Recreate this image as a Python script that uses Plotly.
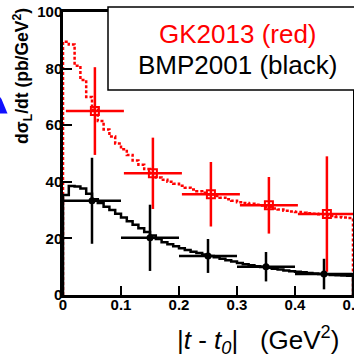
import numpy as np
import plotly.graph_objects as go

# ---- data ----
bin_edges = [round(0.01 * i, 2) for i in range(51)]
gk2013_curve = [89.5, 88.5, 81.0, 76.0, 70.0, 65.5, 61.5, 58.5, 56.0, 53.5,
                51.5, 49.5, 47.5, 46.0, 44.5, 43.0, 41.5, 40.7, 40.0, 39.3,
                38.6, 37.9, 37.3, 36.7, 36.1, 35.5, 35.0, 34.4, 33.8, 33.3,
                32.8, 32.5, 32.2, 31.9, 31.6, 31.1, 30.6, 30.2, 29.8, 29.5,
                29.3, 29.1, 28.9, 28.7, 28.5, 28.2, 27.9, 27.6, 27.4, 27.2]
bmp2001_curve = [35.3, 38.5, 38.3, 37.6, 35.8, 33.8, 32.5, 31.2, 30.0, 28.7,
                 27.4, 26.1, 24.8, 23.6, 22.3, 21.0, 19.8, 18.6, 17.9, 17.2,
                 16.5, 15.9, 15.3, 14.8, 14.3, 13.8, 13.3, 12.8, 12.3, 11.8,
                 11.3, 10.9, 10.5, 10.2, 9.9, 9.6, 9.3, 9.0, 8.7, 8.4,
                 8.2, 8.0, 7.8, 7.6, 7.4, 7.3, 7.1, 7.0, 6.9, 6.8]

red_x = [0.055, 0.155, 0.255, 0.355, 0.455]
red_y = [65.0, 43.0, 35.6, 31.7, 28.6]
red_yerr = [15.5, 12.6, 11.4, 10.0, 20.4]
red_xerr = [0.05, 0.05, 0.05, 0.05, 0.05]

black_x = [0.05, 0.15, 0.25, 0.35, 0.45]
black_y = [33.3, 20.2, 13.8, 10.0, 7.4]
black_yerr = [15.2, 11.7, 6.0, 5.2, 5.4]
black_xerr = [0.05, 0.05, 0.05, 0.05, 0.05]

x_ticks = [0, 0.1, 0.2, 0.3, 0.4, 0.5]
x_ticklabels = ["0", "0.1", "0.2", "0.3", "0.4", "0.5"]
y_ticks = [0, 20, 40, 60, 80, 100]
y_ticklabels = ["0", "20", "40", "60", "80", "100"]

# ---- geometry helpers (pixel -> paper) ----
W, H = 354, 359
L, R, T, B = 63, 1, 12, 64
PW, PH = W - L - R, H - T - B


def px(x):
    return (x - L) / PW


def py(y):
    return (H - B - y) / PH


def hist_xy(edges, vals):
    xs = [edges[0]] + list(edges[:-1]) + [edges[-1], edges[-1]]
    ys = [0] + list(vals) + [vals[-1], 0]
    return xs, ys


fig = go.Figure()

hx, hy = hist_xy(bin_edges, gk2013_curve)
fig.add_trace(go.Scatter(x=hx, y=hy, mode="lines", line_shape="hv",
                         line=dict(color="#ff0000", width=2.5, dash="3px,2px"),
                         showlegend=False, hoverinfo="skip"))
hx, hy = hist_xy(bin_edges, bmp2001_curve)
fig.add_trace(go.Scatter(x=hx, y=hy, mode="lines", line_shape="hv",
                         line=dict(color="black", width=2.5),
                         showlegend=False, hoverinfo="skip"))

fig.add_trace(go.Scatter(
    x=red_x, y=red_y, mode="markers",
    marker=dict(symbol="square-open", size=8, color="#ff0000",
                line=dict(width=2, color="#ff0000")),
    error_y=dict(type="data", array=red_yerr, color="#ff0000", thickness=2.5, width=0),
    error_x=dict(type="data", array=red_xerr, color="#ff0000", thickness=2.5, width=0),
    showlegend=False, cliponaxis=True))

fig.add_trace(go.Scatter(
    x=black_x, y=black_y, mode="markers",
    marker=dict(symbol="circle", size=7, color="black"),
    error_y=dict(type="data", array=black_yerr, color="black", thickness=2.5, width=0),
    error_x=dict(type="data", array=black_xerr, color="black", thickness=2.5, width=0),
    showlegend=False, cliponaxis=True))

tickfont = dict(family="Liberation Sans, Arial, sans-serif", size=15,
                color="black", weight="bold")

fig.update_xaxes(range=[0, 0.5], tickvals=x_ticks, ticktext=x_ticklabels,
                 ticks="inside", ticklen=9, tickwidth=2, tickcolor="black",
                 showline=True, linecolor="black", linewidth=2.5, mirror=True,
                 showgrid=False, zeroline=False, tickfont=tickfont,
                 ticklabelstandoff=-6, ticklabeloverflow="allow", automargin=False)
fig.update_yaxes(range=[0, 100], tickvals=y_ticks, ticktext=y_ticklabels,
                 ticks="inside", ticklen=9, tickwidth=2, tickcolor="black",
                 showline=True, linecolor="black", linewidth=2.5, mirror=True,
                 showgrid=False, zeroline=False, tickfont=tickfont,
                 ticklabelstandoff=-5, ticklabeloverflow="allow", automargin=False)

shapes = [
    dict(type="rect", xref="paper", yref="paper",
         x0=px(108), x1=px(362), y0=py(90), y1=py(7),
         fillcolor="white", line=dict(color="black", width=1.5), layer="above"),
    dict(type="path", xref="paper", yref="paper",
         path="M %f,%f L %f,%f L %f,%f L %f,%f Z" % (
             px(0), py(97), px(1.5), py(99), px(7.5), py(113.5), px(0), py(113.5)),
         fillcolor="#1010ff", line=dict(width=0), layer="above"),
]

font_txt = "Liberation Sans, Arial, sans-serif"
annotations = [
    dict(text="GK2013 (red)", x=px(238), y=py(34), xref="paper", yref="paper",
         showarrow=False, font=dict(family=font_txt, size=26, color="#ff0000"),
         xanchor="center", yanchor="middle"),
    dict(text="BMP2001 (black)", x=px(237.5), y=py(65), xref="paper", yref="paper",
         showarrow=False, font=dict(family=font_txt, size=26, color="black"),
         xanchor="center", yanchor="middle"),
    dict(text="|<i>t</i> - <i>t</i><sub><i>0</i></sub>|\u00a0\u00a0\u00a0"
              "<span style=\"font-size:26px\">(GeV<sup>2</sup>)</span>",
         x=px(258), y=py(340), xref="paper", yref="paper",
         showarrow=False, font=dict(family=font_txt, size=26, color="black"),
         xanchor="center", yanchor="middle"),
    dict(text="<b>d\u03c3<sub>L</sub>/dt (pb/GeV<sup>2</sup>)</b>",
         x=px(22), y=py(76), xref="paper", yref="paper", textangle=-90,
         showarrow=False, font=dict(family=font_txt, size=17.5, color="black"),
         xanchor="center", yanchor="middle"),
]

fig.update_layout(width=W, height=H, margin=dict(l=L, r=R, t=T, b=B),
                  plot_bgcolor="white", paper_bgcolor="white",
                  shapes=shapes, annotations=annotations, showlegend=False)

fig.write_html("out.html", config={"displayModeBar": False},
               post_script="document.body.style.margin='0';document.body.style.padding='0';")
